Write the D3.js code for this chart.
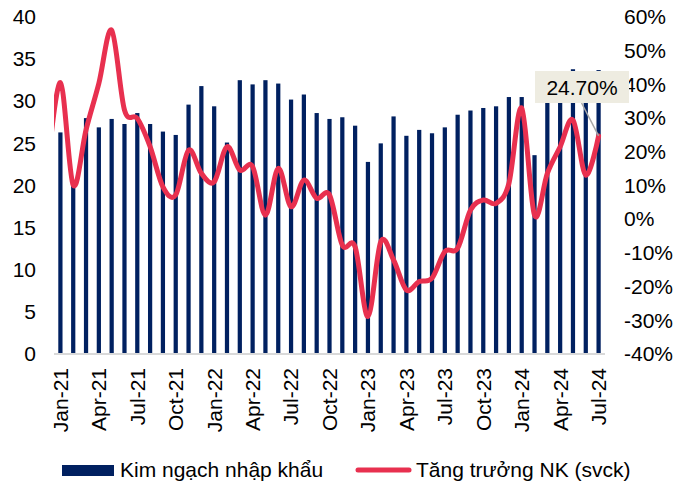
<!DOCTYPE html>
<html>
<head>
<meta charset="utf-8">
<script src="https://cdn.jsdelivr.net/npm/d3@7"></script>
<style>
  body { margin: 0; background: #fff; }
  text { font-family: "Liberation Sans", Arial, sans-serif; fill: #000; }
</style>
</head>
<body>
<div id="chart"></div>
<script>
// Monthly categories, Jan-21 .. Jul-24
const months = [
  "Jan-21","Feb-21","Mar-21","Apr-21","May-21","Jun-21","Jul-21","Aug-21","Sep-21","Oct-21","Nov-21","Dec-21",
  "Jan-22","Feb-22","Mar-22","Apr-22","May-22","Jun-22","Jul-22","Aug-22","Sep-22","Oct-22","Nov-22","Dec-22",
  "Jan-23","Feb-23","Mar-23","Apr-23","May-23","Jun-23","Jul-23","Aug-23","Sep-23","Oct-23","Nov-23","Dec-23",
  "Jan-24","Feb-24","Mar-24","Apr-24","May-24","Jun-24","Jul-24"
];

// Kim ngạch nhập khẩu (bn USD, left axis)
const imports = [
  26.3, 20.5, 28.0, 26.9, 27.9, 27.3, 28.6, 27.3, 26.4, 26.0, 29.6, 31.8,
  29.4, 25.1, 32.5, 32.0, 32.5, 32.1, 30.2, 30.8, 28.6, 27.9, 28.1, 27.1,
  22.8, 25.0, 28.2, 25.9, 26.6, 26.2, 26.9, 28.4, 28.9, 29.2, 29.4, 30.5,
  30.5, 23.6, 32.0, 32.5, 33.8, 32.0, 33.7
];

// Tăng trưởng NK svck (%, right axis)
const growth = [
  40.5, 10.1, 26.5, 40.3, 56.1, 32.4, 29.9, 21.5, 9.6, 7.2, 20.5, 13.6,
  11.1, 21.5, 14.6, 15.6, 1.2, 15.1, 3.7, 11.6, 6.2, 7.2, -7.7, -8.2,
  -28.9, -6.7, -12.1, -21.0, -18.5, -17.5, -9.6, -8.6, 2.7, 5.7, 4.7, 10.6,
  33.0, 1.2, 13.6, 21.5, 29.4, 13.1, 24.7
];
// Dec-20 value: the line enters the plot from the left edge
const growthBefore = 15;

const leftTicks = [0, 5, 10, 15, 20, 25, 30, 35, 40];
const rightTicks = [-40, -30, -20, -10, 0, 10, 20, 30, 40, 50, 60];
const labelTicks = months.filter((d, i) => i % 3 === 0);

const W = 688, H = 486;
const plot = { left: 54, right: 605, top: 17, bottom: 354 };
const navy = "#002060", red = "#E8304F";
const fs = 21;

const svg = d3.select("#chart").append("svg")
  .attr("width", W)
  .attr("height", H);

const x = d3.scaleBand()
  .domain(months)
  .range([plot.left, plot.right])
  .paddingInner(0.67)
  .paddingOuter(0.335);

const yL = d3.scaleLinear().domain([0, 40]).range([plot.bottom, plot.top]);
const yR = d3.scaleLinear().domain([-40, 60]).range([plot.bottom, plot.top]);

const cx = i => x(months[0]) + x.bandwidth() / 2 + i * x.step();

// bars
svg.append("g")
  .selectAll("rect")
  .data(imports)
  .join("rect")
  .attr("x", (d, i) => x(months[i]))
  .attr("y", d => yL(d))
  .attr("width", x.bandwidth())
  .attr("height", d => yL(0) - yL(d))
  .attr("fill", navy);

// baseline
svg.append("line")
  .attr("x1", plot.left).attr("x2", plot.right)
  .attr("y1", plot.bottom).attr("y2", plot.bottom)
  .attr("stroke", "#D9D9D9").attr("stroke-width", 2);

// left axis
const axL = svg.append("g")
  .attr("transform", `translate(${plot.left - 18},0)`)
  .call(d3.axisLeft(yL).tickValues(leftTicks).tickSize(0).tickPadding(0));
axL.select(".domain").remove();
axL.selectAll("text").attr("font-size", fs).attr("font-family", null);

// right axis
const axR = svg.append("g")
  .attr("transform", `translate(${plot.right + 19},0)`)
  .call(d3.axisRight(yR).tickValues(rightTicks).tickSize(0).tickPadding(0)
    .tickFormat(d => d + "%"));
axR.select(".domain").remove();
axR.selectAll("text").attr("font-size", fs).attr("font-family", null);

// x labels
svg.append("g")
  .selectAll("text")
  .data(labelTicks)
  .join("text")
  .attr("transform", d => `translate(${x(d) + x.bandwidth() / 2},368) rotate(-90)`)
  .attr("dy", "0.35em")
  .attr("text-anchor", "end")
  .attr("font-size", fs)
  .text(d => d);

// growth line
svg.append("clipPath").attr("id", "clip")
  .append("rect")
  .attr("x", plot.left).attr("y", 0)
  .attr("width", plot.right - plot.left).attr("height", H);

const linePts = [[cx(-1), yR(growthBefore)]].concat(growth.map((d, i) => [cx(i), yR(d)]));

svg.append("path")
  .attr("clip-path", "url(#clip)")
  .attr("d", d3.line().curve(d3.curveCatmullRom.alpha(0))(linePts))
  .attr("fill", "none")
  .attr("stroke", red)
  .attr("stroke-width", 5)
  .attr("stroke-linejoin", "round")
  .attr("stroke-linecap", "round");

// data label for last point
const last = growth.length - 1;
const lx = cx(last), ly = yR(growth[last]);
svg.append("line")
  .attr("x1", lx - 17).attr("y1", 103)
  .attr("x2", lx).attr("y2", ly)
  .attr("stroke", "#A6A6A6").attr("stroke-width", 1.5);
svg.append("rect")
  .attr("x", 535).attr("y", 71)
  .attr("width", 94).attr("height", 32)
  .attr("fill", "#EEECE1");
svg.append("text")
  .attr("x", 582).attr("y", 95)
  .attr("text-anchor", "middle")
  .attr("font-size", fs)
  .text(d3.format(".2%")(growth[last] / 100));

// legend
const lg = svg.append("g");
lg.append("rect")
  .attr("x", 62).attr("y", 465).attr("width", 52).attr("height", 11)
  .attr("fill", navy);
lg.append("text")
  .attr("x", 120).attr("y", 477).attr("font-size", fs)
  .text("Kim ngạch nhập khẩu");
lg.append("line")
  .attr("x1", 358).attr("x2", 409).attr("y1", 470).attr("y2", 470)
  .attr("stroke", red).attr("stroke-width", 5).attr("stroke-linecap", "round");
lg.append("text")
  .attr("x", 416).attr("y", 477).attr("font-size", fs)
  .text("Tăng trưởng NK (svck)");
</script>
</body>
</html>
